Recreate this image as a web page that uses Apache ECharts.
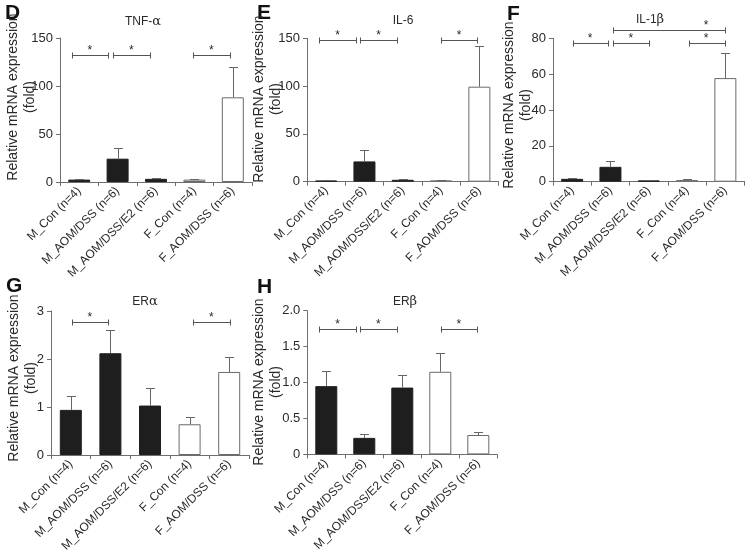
<!DOCTYPE html>
<html><head><meta charset="utf-8">
<script src="https://cdn.jsdelivr.net/npm/echarts@6/dist/echarts.min.js"></script>
<style>html,body{margin:0;padding:0;background:#fff}#c{width:752px;height:560px}</style>
</head><body><div id="c"></div>
<script>
// ---------- data ----------
const categories = ['M_Con (n=4)', 'M_AOM/DSS (n=6)', 'M_AOM/DSS/E2 (n=6)', 'F_Con (n=4)', 'F_AOM/DSS (n=6)'];
const groupSex = ['M', 'M', 'M', 'F', 'F'];

const tnfMean  = [2.5, 24.3, 3.3, 2.5, 88.2];
const tnfSem   = [0.7, 11.3, 0.8, 0.6, 31.8];
const il6Mean  = [1.2, 21.2, 2.0, 1.3, 99.4];
const il6Sem   = [0.3, 12.4, 0.6, 1.0, 42.9];
const il1bMean = [1.6, 8.3, 0.7, 0.9, 57.8];
const il1bSem  = [0.4, 3.2, 0.1, 0.4, 14.2];
const eraMean  = [0.94, 2.12, 1.03, 0.64, 1.73];
const eraSem   = [0.28, 0.48, 0.37, 0.16, 0.31];
const erbMean  = [0.95, 0.23, 0.93, 1.15, 0.27];
const erbSem   = [0.21, 0.06, 0.17, 0.26, 0.045];

const tnfTicks  = ['0', '50', '100', '150'];
const il6Ticks  = ['0', '50', '100', '150'];
const il1bTicks = ['0', '20', '40', '60', '80'];
const eraTicks  = ['0', '1', '2', '3'];
const erbTicks  = ['0', '0.5', '1.0', '1.5', '2.0'];

// significance brackets: [from (category position), to, level, star position]
const tnfBrackets  = [[-0.2, 0.76, 132, 0.28], [0.87, 1.85, 132, 1.36], [2.96, 3.92, 132, 3.44]];
const il6Brackets  = [[-0.18, 0.79, 148, 0.3], [0.89, 1.86, 148, 1.37], [3.0, 3.95, 148, 3.47]];
const il1bBrackets = [[0.01, 0.94, 77.6, 0.47], [1.06, 2.0, 77.6, 1.53], [3.05, 3.99, 77.6, 3.5], [1.06, 3.99, 84.7, 3.5]];
const eraBrackets  = [[0.02, 0.95, 2.78, 0.48], [3.09, 4.02, 2.78, 3.55]];
const erbBrackets  = [[-0.19, 0.78, 1.75, 0.3], [0.89, 1.86, 1.75, 1.37], [3.01, 3.97, 1.75, 3.49]];

// ---------- layout / style ----------
const FONT = '"Liberation Sans", Arial, Helvetica, sans-serif';
const TXT = '#2a2a2a';
const AX = '#6e6e6e';
const panels = [
  { letter: 'D', title: 'TNF-', greek: 'α', mean: tnfMean, sem: tnfSem, ticks: tnfTicks, br: tnfBrackets,
    grid: { left: 60, top: 38, width: 192, height: 144 }, letterPos: [5, 3], titlePos: [143, 22], namePos: [22, 97] },
  { letter: 'E', title: 'IL-6', greek: '', mean: il6Mean, sem: il6Sem, ticks: il6Ticks, br: il6Brackets,
    grid: { left: 307, top: 38.3, width: 191.5, height: 143.4 }, letterPos: [257, 3], titlePos: [403, 21], namePos: [268, 99] },
  { letter: 'F', title: 'IL-1', greek: 'β', mean: il1bMean, sem: il1bSem, ticks: il1bTicks, br: il1bBrackets,
    grid: { left: 553, top: 38.3, width: 191.5, height: 143.4 }, letterPos: [507, 4], titlePos: [650, 20], namePos: [518, 105] },
  { letter: 'G', title: 'ER', greek: 'α', mean: eraMean, sem: eraSem, ticks: eraTicks, br: eraBrackets,
    grid: { left: 51, top: 311, width: 198, height: 144 }, letterPos: [6, 276], titlePos: [145, 302], namePos: [23, 378] },
  { letter: 'H', title: 'ER', greek: 'β', mean: erbMean, sem: erbSem, ticks: erbTicks, br: erbBrackets,
    grid: { left: 307.3, top: 310.7, width: 190, height: 143.7 }, letterPos: [257, 277], titlePos: [405, 302], namePos: [268, 382] }
];

function renderErr(params, api) {
  const i = api.value(0), m = api.value(1), s = api.value(2);
  const b = api.coord([i, m]), t = api.coord([i, m + s]);
  const x = Math.round(b[0]) + 0.5, yt = Math.round(t[1]) + 0.5;
  return { type: 'group', children: [
    { type: 'line', shape: { x1: x, y1: b[1], x2: x, y2: yt }, style: { stroke: '#666', lineWidth: 1 } },
    { type: 'line', shape: { x1: x - 4.5, y1: yt, x2: x + 4.5, y2: yt }, style: { stroke: '#666', lineWidth: 1 } }
  ]};
}
function renderBr(params, api) {
  const a = api.coord([api.value(0), api.value(2)]);
  const b = api.coord([api.value(1), api.value(2)]);
  const s = api.coord([api.value(3), api.value(2)]);
  const y = Math.round(a[1]) + 0.5;
  const x1 = Math.round(a[0]) + 0.5, x2 = Math.round(b[0]) + 0.5;
  return { type: 'group', children: [
    { type: 'line', shape: { x1: x1, y1: y, x2: x2, y2: y }, style: { stroke: '#555', lineWidth: 1 } },
    { type: 'line', shape: { x1: x1, y1: y - 3, x2: x1, y2: y + 3 }, style: { stroke: '#555', lineWidth: 1 } },
    { type: 'line', shape: { x1: x2, y1: y - 3, x2: x2, y2: y + 3 }, style: { stroke: '#555', lineWidth: 1 } },
    { type: 'text', style: { text: '*', x: s[0], y: y - 11, align: 'center', verticalAlign: 'top',
      fontSize: 12, fontFamily: FONT, fill: TXT } }
  ]};
}

const grid = [], xAxis = [], yAxis = [], series = [], graphic = [];
panels.forEach((p, k) => {
  grid.push(p.grid);
  const n = p.ticks.length;
  const vmin = parseFloat(p.ticks[0]), vmax = parseFloat(p.ticks[n - 1]);
  const step = (vmax - vmin) / (n - 1);
  xAxis.push({
    type: 'category', gridIndex: k, data: categories,
    axisLine: { onZero: false, lineStyle: { color: AX, width: 1 } },
    axisTick: { show: true, length: 4, lineStyle: { color: AX }, interval: 0 },
    axisLabel: { rotate: 45, interval: 0, fontSize: 12, fontFamily: FONT, color: TXT, margin: 7 }
  });
  xAxis.push({ type: 'value', gridIndex: k, min: -0.5, max: 4.5, show: false });
  yAxis.push({
    type: 'value', gridIndex: k, min: vmin, max: vmax, interval: step,
    axisLine: { show: true, onZero: false, lineStyle: { color: AX, width: 1 } },
    axisTick: { show: true, length: 4, lineStyle: { color: AX } },
    splitLine: { show: false },
    axisLabel: { fontSize: 13, fontFamily: FONT, color: TXT, margin: 7,
      formatter: v => { const idx = Math.round((v - vmin) / step); return p.ticks[idx]; } }
  });
  series.push({
    type: 'bar', xAxisIndex: 2 * k, yAxisIndex: k, barWidth: 22,
    data: p.mean.map((v, i) => ({ value: v, itemStyle: groupSex[i] === 'M'
      ? { color: '#1e1e1e', borderColor: '#1e1e1e', borderWidth: 1 }
      : { color: '#ffffff', borderColor: '#6a6a6a', borderWidth: 1 } }))
  });
  series.push({
    type: 'custom', xAxisIndex: 2 * k, yAxisIndex: k, renderItem: renderErr, clip: false, z: 3,
    data: p.mean.map((m, i) => [i, m, p.sem[i]])
  });
  series.push({
    type: 'custom', xAxisIndex: 2 * k + 1, yAxisIndex: k, renderItem: renderBr, clip: false, z: 3,
    data: p.br
  });
  graphic.push({ type: 'text', left: p.letterPos[0], top: p.letterPos[1],
    style: { text: p.letter, fontSize: 21, fontWeight: 'bold', fontFamily: FONT, fill: '#111' } });
  graphic.push({ type: 'text', x: p.titlePos[0], y: p.titlePos[1],
    style: { text: p.title + (p.greek ? '{g|' + p.greek + '}' : ''), align: 'center', verticalAlign: 'middle',
      fontSize: 12, fontFamily: FONT, fill: TXT,
      rich: { g: { fontSize: 13, fontFamily: '"DejaVu Serif", serif', fill: TXT } } } });
  graphic.push({ type: 'text', x: p.namePos[0], y: p.namePos[1], rotation: Math.PI / 2,
    style: { text: 'Relative mRNA expression\n(fold)', align: 'center', verticalAlign: 'middle',
      fontSize: 14, lineHeight: 17, fontFamily: FONT, fill: TXT } });
});

const chart = echarts.init(document.getElementById('c'), null, { renderer: 'canvas' });
chart.setOption({ animation: false, backgroundColor: '#fff', grid, xAxis, yAxis, series, graphic });
</script>
</body></html>
